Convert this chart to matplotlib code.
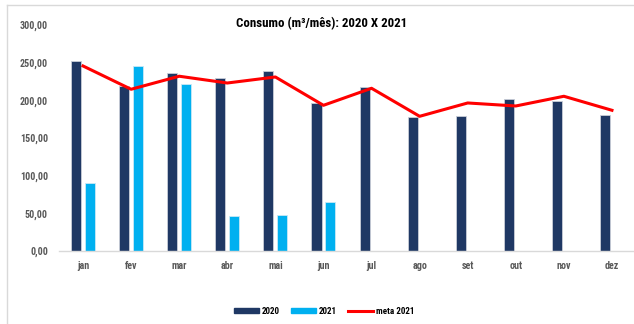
import numpy as np
import matplotlib.pyplot as plt
from matplotlib.lines import Line2D
from matplotlib.patches import Patch

plt.rcParams['font.family'] = ['Roboto Condensed', 'Roboto', 'DejaVu Sans']

meses = ['jan', 'fev', 'mar', 'abr', 'mai', 'jun', 'jul', 'ago', 'set', 'out', 'nov', 'dez']
consumo_2020 = [252.6, 219.0, 236.3, 229.3, 238.5, 196.0, 218.0, 178.3, 179.2, 201.4, 199.0, 180.5]
consumo_2021 = [89.9, 245.0, 222.0, 46.5, 47.8, 64.6]
meta_2021 = [245.6, 214.7, 232.0, 223.0, 231.0, 193.4, 216.0, 178.8, 196.5, 192.5, 205.4, 186.8]

cor_2020 = '#1F3864'
cor_2021 = '#00B0F0'
cor_meta = '#FF0000'
cinza = '#595959'

fig = plt.figure(figsize=(6.34, 3.24), dpi=100)
ax = fig.add_axes([59 / 634, 73 / 324, 577 / 634, 226 / 324])

x = np.arange(len(meses))
larg = 0.21
ax.bar(x - 0.145, consumo_2020, width=larg, color=cor_2020, edgecolor='#C9CED8', linewidth=0.6, zorder=2)
ax.bar(x[:len(consumo_2021)] + 0.14, consumo_2021, width=larg, color=cor_2021, edgecolor='#C9E8F5', linewidth=0.6, zorder=2)
ax.plot(x, meta_2021, color=cor_meta, linewidth=2.2, zorder=3)

ax.set_xlim(-0.5, 11.5)
ax.set_ylim(0, 300)
ax.set_yticks(np.arange(0, 301, 50))
ax.set_yticklabels([f'{v:.2f}'.replace('.', ',') for v in np.arange(0, 301, 50)])
ax.set_xticks(x)
ax.set_xticklabels(meses)
ax.tick_params(axis='both', length=0, labelsize=7.2, colors=cinza)
ax.tick_params(axis='x', pad=7)
ax.tick_params(axis='y', pad=8)
for lbl in ax.get_xticklabels() + ax.get_yticklabels():
    lbl.set_fontweight('bold')

for lado in ['top', 'right', 'left']:
    ax.spines[lado].set_visible(False)
ax.spines['bottom'].set_color('#D9D9D9')
ax.spines['bottom'].set_linewidth(1)

fig.text(322 / 634, 1 - 24 / 324, 'Consumo (m³/mês): 2020 X 2021', ha='center', va='center',
         fontsize=9.3, fontweight='bold', color='black')

# moldura da área do gráfico
fig.add_artist(Line2D([7 / 634, 7 / 634], [0, 1 - 5 / 324], color='#D9D9D9', linewidth=1, transform=fig.transFigure))
fig.add_artist(Line2D([7 / 634, 1], [1 - 5 / 324, 1 - 5 / 324], color='#D9D9D9', linewidth=1, transform=fig.transFigure))

handles = [Patch(color=cor_2020), Patch(color=cor_2021), Line2D([], [], color=cor_meta, linewidth=2.2)]
fig.legend(handles, ['2020', '2021', 'meta 2021'], loc='center', bbox_to_anchor=(324 / 634, 1 - 311 / 324),
           ncol=3, frameon=False, handlelength=2.8, handleheight=0.55, columnspacing=1.2,
           handletextpad=0.3, prop={'weight': 'bold', 'size': 6.5})

fig.savefig('out.png', dpi=100)
